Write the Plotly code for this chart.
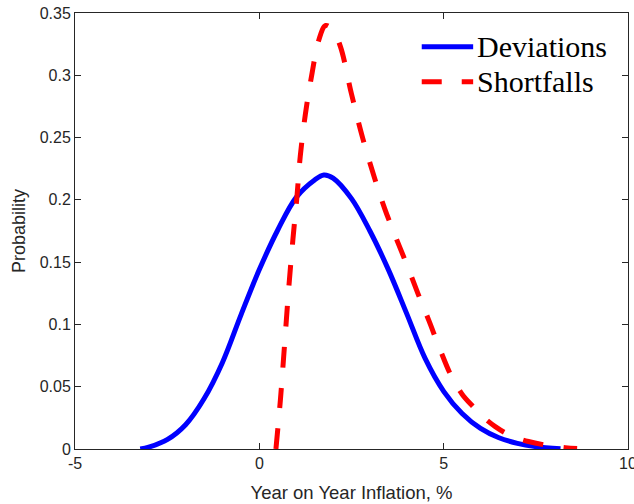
import plotly.graph_objects as go

# Deviations curve (solid blue)
dev_x = [-3.23, -3.0, -2.5, -2.0, -1.5, -1.0, -0.5, 0.0, 0.5, 1.0, 1.5, 1.75,
         2.0, 2.5, 3.0, 3.5, 4.0, 4.5, 5.0, 5.5, 6.0, 6.5, 7.0, 7.5, 8.17]
dev_y = [0.0, 0.0015, 0.0075, 0.0195, 0.0403, 0.0695, 0.1075, 0.144, 0.1758, 0.202,
         0.216, 0.220, 0.2175, 0.201, 0.175, 0.144, 0.1085, 0.0725, 0.0463, 0.0285,
         0.0165, 0.009, 0.0045, 0.0019, 0.0003]

# Shortfalls curve (dashed red)
sf_x = [0.45, 0.57, 0.68, 0.80, 0.91, 1.02, 1.11, 1.25, 1.43, 1.61, 1.80, 2.0,
        2.2, 2.5, 2.8, 3.1, 3.4, 3.7, 4.0, 4.3, 4.6, 4.9, 5.2, 5.5, 5.8, 6.1,
        6.4, 6.8, 7.3, 7.8, 8.3, 8.62]
sf_y = [0.0, 0.039, 0.082, 0.130, 0.168, 0.2025, 0.235, 0.269, 0.3016, 0.328,
        0.340, 0.336, 0.323, 0.285, 0.250, 0.220, 0.193, 0.170, 0.148, 0.125,
        0.103, 0.080, 0.059, 0.044, 0.034, 0.025, 0.018, 0.011, 0.006, 0.003,
        0.001, 0.0004]

series_names = ["Deviations", "Shortfalls"]
x_ticks = [-5, 0, 5, 10]
y_ticks = [0, 0.05, 0.1, 0.15, 0.2, 0.25, 0.3, 0.35]
y_tick_text = ["0", "0.05", "0.1", "0.15", "0.2", "0.25", "0.3", "0.35"]

AX = "#262626"
BLUE = "#0000ff"
RED = "#ff0000"
DASH = "20.5px,20.5px"

fig = go.Figure()
fig.add_trace(go.Scatter(x=dev_x, y=dev_y, mode="lines", name=series_names[0],
                         line=dict(color=BLUE, width=5, shape="spline", smoothing=1.0)))
fig.add_trace(go.Scatter(x=sf_x, y=sf_y, mode="lines", name=series_names[1],
                         line=dict(color=RED, width=5, dash=DASH, shape="spline", smoothing=1.0)))

# legend box drawn in paper coordinates
rows = [(0.9227, BLUE, "solid"), (0.8424, RED, "20px,20px")]
for (yy, col, dsh), name in zip(rows, series_names):
    fig.add_shape(type="line", xref="paper", yref="paper", x0=0.627, x1=0.720, y0=yy, y1=yy,
                  line=dict(color=col, width=5, dash=dsh))
    fig.add_annotation(xref="paper", yref="paper", x=0.724, y=yy, text=name, showarrow=False,
                       xanchor="left", yanchor="middle",
                       font=dict(family="Liberation Serif", size=30, color="black"))

axis_common = dict(showline=True, linecolor=AX, linewidth=1, mirror="ticks",
                   ticks="inside", ticklen=6, tickcolor=AX, tickwidth=1,
                   showgrid=False, zeroline=False, ticklabeloverflow="allow",
                   tickfont=dict(family="Liberation Sans", size=16, color=AX))

fig.update_xaxes(range=[-5, 10], tickvals=x_ticks, ticktext=[str(v) for v in x_ticks],
                 title=dict(text="Year on Year Inflation, %", standoff=14,
                            font=dict(family="Liberation Sans", size=18.5, color=AX)),
                 **axis_common)
fig.update_yaxes(range=[0, 0.35], tickvals=y_ticks, ticktext=y_tick_text,
                 title=dict(text="Probability", standoff=9,
                            font=dict(family="Liberation Sans", size=18, color=AX)),
                 **axis_common)

fig.update_layout(width=634, height=504, showlegend=False,
                  margin=dict(l=75, r=6.3, t=13, b=55, autoexpand=False),
                  plot_bgcolor="white", paper_bgcolor="white")

fig.write_html("out.html")
